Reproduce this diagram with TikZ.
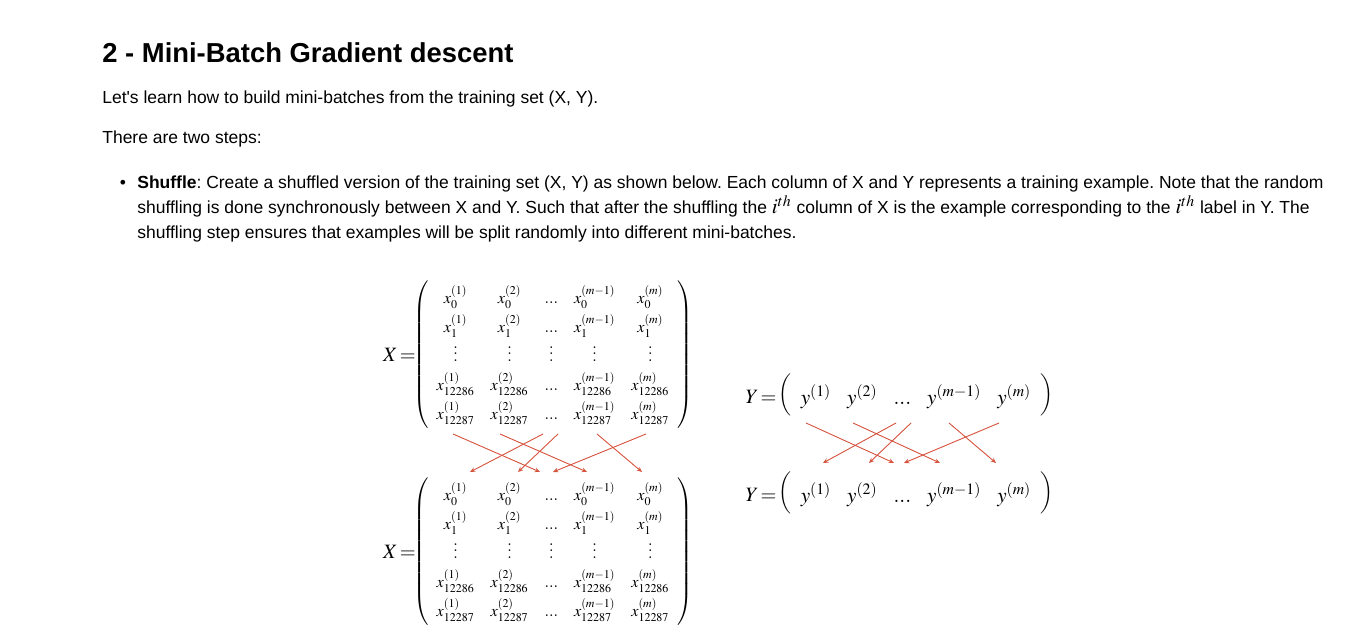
\documentclass[tikz,border=0pt]{standalone}
\usepackage{mathptmx}
\usepackage{fontspec}
\setmainfont{Liberation Sans}
\usetikzlibrary{matrix,positioning,arrows.meta}
\frenchspacing
\definecolor{shufred}{RGB}{214,84,62}
\newcommand{\colvdots}{\vbox{\baselineskip3.7pt\lineskiplimit0pt\kern1pt\hbox{$.$}\hbox{$.$}\hbox{$.$}}}
\newcommand{\ith}{{\fontsize{12pt}{14pt}\selectfont$i^{th}$}}
\tikzstyle{heading}=[anchor=base west,inner sep=0pt,font=\fontsize{15.6pt}{18pt}\selectfont\bfseries]
\tikzstyle{para}=[anchor=base west,inner sep=0pt,font=\fontsize{9.95pt}{12pt}\selectfont]
\tikzstyle{xmat}=[matrix of math nodes,left delimiter=(,right delimiter=),inner sep=2pt,column sep=0.25cm,row sep={0.58cm,between origins},nodes={inner sep=1pt,font=\fontsize{9.2pt}{10pt}\selectfont}]
\tikzstyle{ymat}=[matrix of math nodes,left delimiter=(,right delimiter=),inner sep=3pt,column sep=0.25cm,nodes={inner sep=1pt,font=\fontsize{12pt}{14pt}\selectfont}]
\tikzstyle{lab}=[inner sep=0pt,font=\fontsize{11.6pt}{13pt}\selectfont]
\tikzstyle{shuf}=[-{Stealth[length=3pt,width=2.6pt]},draw=shufred,fill=shufred,line width=0.5pt]

\begin{document}
\begin{tikzpicture}[x=0.02cm,y=-0.02cm]
\useasboundingbox (0,0) rectangle (1356,644);
% text above the figure
\node[heading] (title) at (102,63) {2 - Mini-Batch Gradient descent};
\node[para] (intro) at (102,103.5) {Let\textquotesingle s learn how to build mini-batches from the training set (X, Y).};
\node[para] (steps) at (102,144) {There are two steps:};
\node[inner sep=0pt,font=\fontsize{10pt}{12pt}\selectfont] (dot) at (123,184) {\textbullet};
\node[para] (line1) at (137,188.3) {\textbf{Shuffle}: Create a shuffled version of the training set (X, Y) as shown below. Each column of X and Y represents a training example. Note that the random};
\node[para] (line2) at (137,214) {shuffling is done synchronously between X and Y. Such that after the shuffling the \ith{} column of X is the example corresponding to the \ith{} label in Y. The};
\node[para] (line3) at (137,238.5) {shuffling step ensures that examples will be split randomly into different mini-batches.};

% X before and after
\matrix (Xtop) [xmat] at (553,355) {
x_0^{(1)} & x_0^{(2)} & ... & x_0^{(m-1)} & x_0^{(m)} \\
x_1^{(1)} & x_1^{(2)} & ... & x_1^{(m-1)} & x_1^{(m)} \\
\colvdots & \colvdots & \colvdots & \colvdots & \colvdots \\
x_{12286}^{(1)} & x_{12286}^{(2)} & ... & x_{12286}^{(m-1)} & x_{12286}^{(m)} \\
x_{12287}^{(1)} & x_{12287}^{(2)} & ... & x_{12287}^{(m-1)} & x_{12287}^{(m)} \\
};
\node[lab, left=0.3cm of Xtop] (XtopLab) {$X\,{=}$};

\matrix (Xbot) [xmat] at (553,552) {
x_0^{(1)} & x_0^{(2)} & ... & x_0^{(m-1)} & x_0^{(m)} \\
x_1^{(1)} & x_1^{(2)} & ... & x_1^{(m-1)} & x_1^{(m)} \\
\colvdots & \colvdots & \colvdots & \colvdots & \colvdots \\
x_{12286}^{(1)} & x_{12286}^{(2)} & ... & x_{12286}^{(m-1)} & x_{12286}^{(m)} \\
x_{12287}^{(1)} & x_{12287}^{(2)} & ... & x_{12287}^{(m-1)} & x_{12287}^{(m)} \\
};
\node[lab, left=0.3cm of Xbot] (XbotLab) {$X\,{=}$};

% Y before and after
\matrix (Ytop) [ymat] at (916,397) {
y^{(1)} & y^{(2)} & ... & y^{(m-1)} & y^{(m)} \\
};
\node[lab, left=0.33cm of Ytop] (YtopLab) {$Y\,{=}$};

\matrix (Ybot) [ymat] at (916,495) {
y^{(1)} & y^{(2)} & ... & y^{(m-1)} & y^{(m)} \\
};
\node[lab, left=0.33cm of Ybot] (YbotLab) {$Y\,{=}$};

% shuffle arrows for X
\coordinate (xs1) at (453,434); \coordinate (xe1) at (540,472);
\coordinate (xs2) at (500,434); \coordinate (xe2) at (587,472);
\coordinate (xs3) at (543,434); \coordinate (xe3) at (470,472);
\coordinate (xs4) at (558,434); \coordinate (xe4) at (518,472);
\coordinate (xs5) at (597,434); \coordinate (xe5) at (642,472);
\coordinate (xs6) at (646,434); \coordinate (xe6) at (553,472);
\draw[shuf] (xs1) -- (xe1);
\draw[shuf] (xs2) -- (xe2);
\draw[shuf] (xs3) -- (xe3);
\draw[shuf] (xs4) -- (xe4);
\draw[shuf] (xs5) -- (xe5);
\draw[shuf] (xs6) -- (xe6);

% shuffle arrows for Y
\coordinate (ys1) at (806,423); \coordinate (ye1) at (894,463);
\coordinate (ys2) at (853,423); \coordinate (ye2) at (940,463);
\coordinate (ys3) at (896,423); \coordinate (ye3) at (823,463);
\coordinate (ys4) at (911,423); \coordinate (ye4) at (869,463);
\coordinate (ys5) at (949,423); \coordinate (ye5) at (996,463);
\coordinate (ys6) at (999,423); \coordinate (ye6) at (904,463);
\draw[shuf] (ys1) -- (ye1);
\draw[shuf] (ys2) -- (ye2);
\draw[shuf] (ys3) -- (ye3);
\draw[shuf] (ys4) -- (ye4);
\draw[shuf] (ys5) -- (ye5);
\draw[shuf] (ys6) -- (ye6);
\end{tikzpicture}
\end{document}
